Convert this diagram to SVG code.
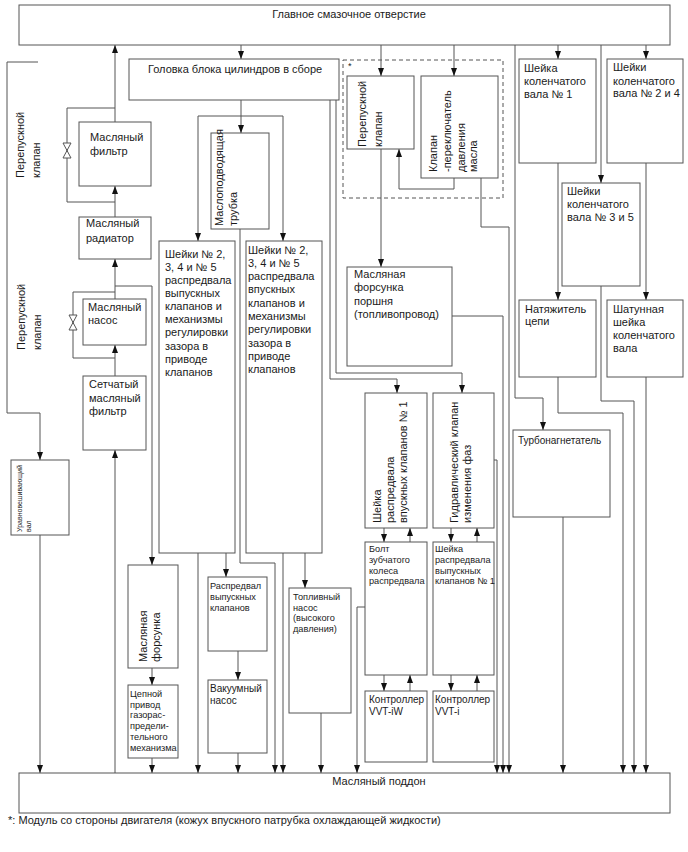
<svg xmlns="http://www.w3.org/2000/svg" width="688" height="852" viewBox="0 0 688 852">
<style>
.b{fill:#fff;stroke:#555;stroke-width:1}
.d{fill:none;stroke:#555;stroke-width:1;stroke-dasharray:4,3}
.c{fill:none;stroke:#555;stroke-width:1}
.a{fill:none;stroke:#555;stroke-width:1;marker-end:url(#ah)}
.v{fill:#fff;stroke:#555;stroke-width:1}
text{font-family:"Liberation Sans",Arial,sans-serif;fill:#1a1a1a}
.t{font-size:11px}
.m{font-size:10px}
.s{font-size:9.2px}
.x{font-size:7px}
</style>
<defs>
<marker id="ah" viewBox="0 0 8 6" refX="8" refY="3" markerWidth="8" markerHeight="6" orient="auto" markerUnits="userSpaceOnUse">
<path d="M0,0 L8,3 L0,6 z" fill="#111"/>
</marker>
</defs>
<rect width="688" height="852" fill="#fff"/>

<g id="connectors">
<path class="a" d="M115,122 V45"/>
<path class="c" d="M115,108 H67 V202 H115"/>
<path class="a" d="M115,217 V186"/>
<path class="a" d="M115,299 V259"/>
<path class="c" d="M115,292 H73 V358 H115"/>
<path class="a" d="M115,376 V345"/>
<path class="a" d="M115,773 V450"/>
<path class="a" d="M115,286 H152 V565"/>
<path class="a" d="M152,668 V685"/>
<path class="a" d="M152,758 V773"/>
<path class="a" d="M38,62 H7 V413 H40 V460"/>
<path class="a" d="M40,535 V773"/>
<path class="a" d="M241,45 V59"/>
<path class="a" d="M241,100 V133"/>
<path class="c" d="M198,116 H283"/>
<path class="a" d="M198,116 V241"/>
<path class="a" d="M283,116 V241"/>
<path class="a" d="M240,229 V563 H275 V773"/>
<path class="a" d="M198,553 V773"/>
<path class="a" d="M226,553 V577"/>
<path class="a" d="M238,651 V680"/>
<path class="a" d="M238,753 V773"/>
<path class="a" d="M283,553 V773"/>
<path class="a" d="M305,553 V588"/>
<path class="a" d="M321,713 V773"/>
<path class="a" d="M330,100 V379 H397 V393"/>
<path class="a" d="M336,100 V373 H462 V393"/>
<path class="a" d="M381,45 V76"/>
<path class="a" d="M454,45 V76"/>
<path class="a" d="M454,178 V189 H399 V149"/>
<path class="a" d="M381,149 V267"/>
<path class="a" d="M452,316 H503 V773"/>
<path class="a" d="M481,178 V227 H509 V773"/>
<path class="a" d="M515,45 V398 H543 V430"/>
<path class="a" d="M558,45 V59"/>
<path class="a" d="M646,45 V59"/>
<path class="a" d="M601,45 V183"/>
<path class="a" d="M558,163 V300"/>
<path class="a" d="M646,163 V300"/>
<path class="a" d="M601,286 V401 H634 V773"/>
<path class="a" d="M558,377 V413 H623 V773"/>
<path class="a" d="M646,377 V773"/>
<path class="a" d="M563,517 V773"/>
<path class="a" d="M384,528 V542"/>
<path class="a" d="M410,542 V528"/>
<path class="a" d="M384,675 V691"/>
<path class="a" d="M410,691 V675"/>
<path class="a" d="M451,528 V542"/>
<path class="a" d="M477,542 V528"/>
<path class="a" d="M451,675 V691"/>
<path class="a" d="M477,691 V675"/>
<path class="a" d="M365,607 H357 V773"/>
<path class="a" d="M494,460 H497 V773"/>
<path class="v" d="M63,143 H71 L63,158 H71 Z"/>
<path class="v" d="M69,315 H77 L69,330 H77 Z"/>
</g>

<g id="main-hole">
<rect class="b" x="19" y="5" width="651" height="40"/>
<text class="t" x="349" y="18" text-anchor="middle">Главное смазочное отверстие</text>
</g>
<g id="oil-pan">
<rect class="b" x="19" y="773" width="651" height="40"/>
<text class="t" x="379" y="785" text-anchor="middle">Масляный поддон</text>
</g>
<g id="bypass-label-1">
<text class="t" transform="translate(24,178) rotate(-90)">Перепускной</text>
<text class="t" transform="translate(40,178) rotate(-90)">клапан</text>
</g>
<g id="bypass-label-2">
<text class="t" transform="translate(25,350) rotate(-90)">Перепускной</text>
<text class="t" transform="translate(41,350) rotate(-90)">клапан</text>
</g>
<g id="head">
<rect class="b" x="129" y="59" width="210" height="41"/>
<text class="t" x="148" y="73">Головка блока цилиндров в сборе</text>
</g>
<g id="oil-filter">
<rect class="b" x="79" y="122" width="72" height="64"/>
<text class="t" x="90" y="141">Масляный</text>
<text class="t" x="90" y="155">фильтр</text>
</g>
<g id="oil-cooler">
<rect class="b" x="79" y="217" width="72" height="42"/>
<text class="t" x="86" y="227">Масляный</text>
<text class="t" x="86" y="242">радиатор</text>
</g>
<g id="oil-pump">
<rect class="b" x="83" y="299" width="63" height="46"/>
<text class="t" x="88" y="311">Масляный</text>
<text class="t" x="88" y="324">насос</text>
</g>
<g id="strainer">
<rect class="b" x="83" y="376" width="63" height="74"/>
<text class="t" x="89" y="388">Сетчатый</text>
<text class="t" x="89" y="402">масляный</text>
<text class="t" x="89" y="415">фильтр</text>
</g>
<g id="balance-shaft">
<rect class="b" x="11" y="460" width="58" height="75"/>
<text class="x" transform="translate(22,532) rotate(-90)">Уравновешивающий</text>
<text class="x" transform="translate(31,532) rotate(-90)">вал</text>
</g>
<g id="oil-tube">
<rect class="b" x="211" y="133" width="58" height="96"/>
<text class="t" transform="translate(223,226) rotate(-90)">Маслоподводящая</text>
<text class="t" transform="translate(237,226) rotate(-90)">трубка</text>
</g>
<g id="exh-journals">
<rect class="b" x="159" y="241" width="76" height="312"/>
<text class="t" x="165" y="257.5">Шейки № 2,</text>
<text class="t" x="165" y="270.6">3, 4 и № 5</text>
<text class="t" x="165" y="283.8">распредвала</text>
<text class="t" x="165" y="296.9">выпускных</text>
<text class="t" x="165" y="310.1">клапанов и</text>
<text class="t" x="165" y="323.2">механизмы</text>
<text class="t" x="165" y="336.4">регулировки</text>
<text class="t" x="165" y="349.5">зазора в</text>
<text class="t" x="165" y="362.7">приводе</text>
<text class="t" x="165" y="375.8">клапанов</text>
</g>
<g id="int-journals">
<rect class="b" x="246" y="241" width="76" height="312"/>
<text class="t" x="248" y="253.5">Шейки № 2,</text>
<text class="t" x="248" y="266.8">3, 4 и № 5</text>
<text class="t" x="248" y="280.1">распредвала</text>
<text class="t" x="248" y="293.4">впускных</text>
<text class="t" x="248" y="306.7">клапанов и</text>
<text class="t" x="248" y="320">механизмы</text>
<text class="t" x="248" y="333.3">регулировки</text>
<text class="t" x="248" y="346.6">зазора в</text>
<text class="t" x="248" y="359.9">приводе</text>
<text class="t" x="248" y="373.2">клапанов</text>
</g>
<g id="oil-jet">
<rect class="b" x="128" y="565" width="50" height="103"/>
<text class="t" transform="translate(147,662) rotate(-90)">Масляная</text>
<text class="t" transform="translate(160,662) rotate(-90)">форсунка</text>
</g>
<g id="chain-drive">
<rect class="b" x="128" y="685" width="50" height="73"/>
<text class="s" x="130" y="697">Цепной</text>
<text class="s" x="130" y="707.5">привод</text>
<text class="s" x="130" y="718">газорас-</text>
<text class="s" x="130" y="729">предели-</text>
<text class="s" x="130" y="740">тельного</text>
<text class="s" x="130" y="751">механизма</text>
</g>
<g id="exh-camshaft">
<rect class="b" x="208" y="577" width="59" height="74"/>
<text class="s" x="210" y="589">Распредвал</text>
<text class="s" x="210" y="600">выпускных</text>
<text class="s" x="210" y="610.5">клапанов</text>
</g>
<g id="vacuum-pump">
<rect class="b" x="208" y="680" width="59" height="73"/>
<text class="m" x="210" y="692">Вакуумный</text>
<text class="m" x="210" y="704">насос</text>
</g>
<g id="fuel-pump">
<rect class="b" x="289" y="588" width="62" height="125"/>
<text class="s" x="293" y="600">Топливный</text>
<text class="s" x="293" y="610.5">насос</text>
<text class="s" x="293" y="621">(высокого</text>
<text class="s" x="293" y="631.5">давления)</text>
</g>
<g id="module">
<rect class="d" x="343" y="60" width="160" height="138"/>
<text class="s" x="348" y="69">*</text>
</g>
<g id="relief-valve">
<rect class="b" x="347" y="76" width="67" height="73"/>
<text class="t" transform="translate(366,147) rotate(-90)">Перепускной</text>
<text class="t" transform="translate(382,147) rotate(-90)">клапан</text>
</g>
<g id="pressure-switch">
<rect class="b" x="421" y="76" width="77" height="102"/>
<text class="t" transform="translate(437,172) rotate(-90)">Клапан</text>
<text class="t" transform="translate(451,172) rotate(-90)">-переключатель</text>
<text class="t" transform="translate(465,172) rotate(-90)">давления</text>
<text class="t" transform="translate(477,172) rotate(-90)">масла</text>
</g>
<g id="piston-jet">
<rect class="b" x="347" y="267" width="105" height="99"/>
<text class="t" x="354" y="278">Масляная</text>
<text class="t" x="354" y="291">форсунка</text>
<text class="t" x="354" y="305">поршня</text>
<text class="t" x="354" y="318">(топливопровод)</text>
</g>
<g id="int-cam-journal">
<rect class="b" x="365" y="393" width="62" height="135"/>
<text class="t" transform="translate(381,523) rotate(-90)">Шейка</text>
<text class="t" transform="translate(394,523) rotate(-90)">распредвала</text>
<text class="t" transform="translate(407,523) rotate(-90)">впускных клапанов № 1</text>
</g>
<g id="cam-bolt">
<rect class="b" x="365" y="542" width="62" height="133"/>
<text class="s" x="369" y="552">Болт</text>
<text class="s" x="369" y="563">зубчатого</text>
<text class="s" x="369" y="573.5">колеса</text>
<text class="s" x="369" y="584">распредвала</text>
</g>
<g id="vvt-iw">
<rect class="b" x="365" y="691" width="62" height="71"/>
<text class="m" x="369" y="703">Контроллер</text>
<text class="m" x="369" y="715">VVT-iW</text>
</g>
<g id="ocv">
<rect class="b" x="433" y="393" width="61" height="135"/>
<text class="t" transform="translate(458,523) rotate(-90)">Гидравлический клапан</text>
<text class="t" transform="translate(471,523) rotate(-90)">изменения фаз</text>
</g>
<g id="exh-cam-journal">
<rect class="b" x="433" y="542" width="61" height="133"/>
<text class="s" x="435" y="552">Шейка</text>
<text class="s" x="435" y="563">распредвала</text>
<text class="s" x="435" y="573.5">выпускных</text>
<text class="s" x="435" y="584">клапанов № 1</text>
</g>
<g id="vvt-i">
<rect class="b" x="433" y="691" width="61" height="71"/>
<text class="m" x="435" y="703">Контроллер</text>
<text class="m" x="435" y="715">VVT-i</text>
</g>
<g id="crank-1">
<rect class="b" x="519" y="59" width="77" height="104"/>
<text class="t" x="524" y="72">Шейка</text>
<text class="t" x="524" y="85">коленчатого</text>
<text class="t" x="524" y="98">вала № 1</text>
</g>
<g id="crank-24">
<rect class="b" x="607" y="59" width="76" height="104"/>
<text class="t" x="613" y="71">Шейки</text>
<text class="t" x="613" y="84.5">коленчатого</text>
<text class="t" x="613" y="97">вала № 2 и 4</text>
</g>
<g id="crank-35">
<rect class="b" x="562" y="183" width="78" height="103"/>
<text class="t" x="567" y="195">Шейки</text>
<text class="t" x="567" y="208">коленчатого</text>
<text class="t" x="567" y="221">вала № 3 и 5</text>
</g>
<g id="tensioner">
<rect class="b" x="519" y="300" width="77" height="77"/>
<text class="t" x="525" y="313">Натяжитель</text>
<text class="t" x="525" y="325">цепи</text>
</g>
<g id="conrod">
<rect class="b" x="607" y="300" width="76" height="77"/>
<text class="t" x="613" y="313">Шатунная</text>
<text class="t" x="613" y="326">шейка</text>
<text class="t" x="613" y="339">коленчатого</text>
<text class="t" x="613" y="352">вала</text>
</g>
<g id="turbo">
<rect class="b" x="513" y="430" width="97" height="87"/>
<text class="m" x="518" y="444">Турбонагнетатель</text>
</g>
<text class="t" x="8" y="824">*: Модуль со стороны двигателя (кожух впускного патрубка охлаждающей жидкости)</text>
</svg>
